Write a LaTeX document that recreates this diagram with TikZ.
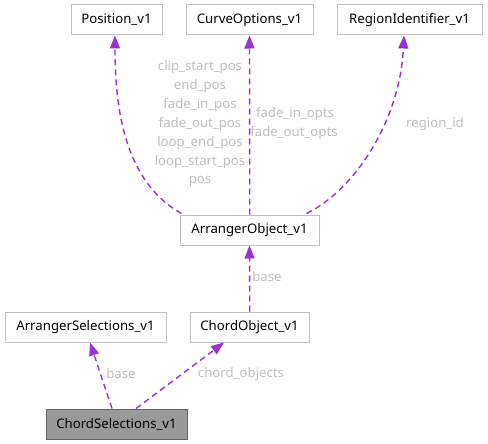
\documentclass[tikz,border=0pt]{standalone}
\usepackage{fontspec}
\setmainfont{Noto Sans}
\usetikzlibrary{arrows.meta}
\definecolor{edgec}{HTML}{9A32CD}
\definecolor{boxc}{HTML}{BFBFBF}
\definecolor{labc}{HTML}{BEBEBE}
\tikzset{
  cls/.style={draw=boxc, line width=1pt, fill=white, minimum height=30pt, inner sep=0pt, font=\fontsize{13.2}{15}\selectfont},
  cur/.style={cls, fill=black!40, draw=black!60},
  usage/.style={draw=edgec, line width=1.4pt, dash pattern=on 6pt off 4pt, -{Triangle[length=13pt,width=10pt,fill=edgec]}},
  lab/.style={text=labc, font=\fontsize{13.2}{15}\selectfont, inner sep=0pt, align=center}
}
\begin{document}
\begin{tikzpicture}[x=1pt,y=-1pt]
\useasboundingbox (0,0) rectangle (488,444);
\node[cls, minimum width=91pt] (pos) at (116.5,20) {Position\_v1};
\node[cls, minimum width=127pt] (curve) at (249.5,20) {CurveOptions\_v1};
\node[cls, minimum width=145pt] (region) at (409.5,20) {RegionIdentifier\_v1};
\node[cls, minimum width=139pt] (ao) at (249.5,230) {ArrangerObject\_v1};
\node[cls, minimum width=161pt] (as) at (85.5,327) {ArrangerSelections\_v1};
\node[cls, minimum width=119pt] (co) at (249.5,327) {ChordObject\_v1};
\node[cur, minimum width=141pt] (cs) at (116.5,424) {ChordSelections\_v1};

\draw[usage] (ao.north west) ++(2,-1) coordinate (a1) .. controls (125,182) and (115,110) .. (pos.south -| 115,0);
\draw[usage] ([xshift=0.3pt]ao.north) -- (curve.south);
\draw[usage] (ao.north east) ++(-13,-1) coordinate (a2) .. controls (355,190) and (400,120) .. (region.south -| 404,0);
\draw[usage] ([xshift=0.3pt]co.north) -- (ao.south);
\draw[usage] (cs.north -| 112,0) -- (as.south -| 90,0);
\draw[usage] (cs.north -| 136,0) -- (co.south -| 224,0);

\node[lab] at (200,67) {clip\_start\_pos};
\node[lab] at (200,86) {end\_pos};
\node[lab] at (200,105) {fade\_in\_pos};
\node[lab] at (200,124) {fade\_out\_pos};
\node[lab] at (200,143) {loop\_end\_pos};
\node[lab] at (200,162) {loop\_start\_pos};
\node[lab] at (200,181) {pos};
\node[lab] at (295,114) {fade\_in\_opts};
\node[lab] at (294,133) {fade\_out\_opts};
\node[lab] at (435,124) {region\_id};
\node[lab] at (267,277) {base};
\node[lab] at (121,374) {base};
\node[lab] at (241,374) {chord\_objects};
\end{tikzpicture}
\end{document}
